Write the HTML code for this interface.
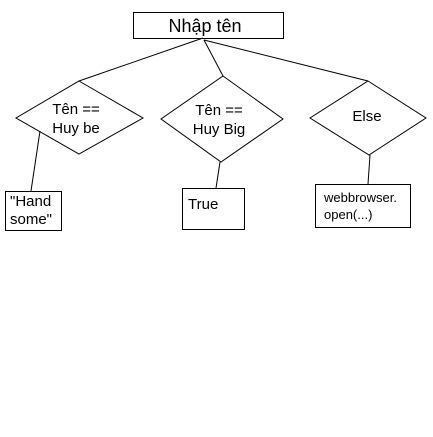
<!DOCTYPE html>
<html><head><meta charset="utf-8"><style>
html,body{margin:0;padding:0;background:#fff;}
svg{display:block}
text{font-family:"Liberation Sans",Arial,sans-serif;fill:#000}
</style></head><body>
<svg width="433" height="437" viewBox="0 0 433 437">
<g stroke="#000" stroke-width="1" fill="none" shape-rendering="crispEdges">
<rect x="133.5" y="12.5" width="150" height="26"/>
<rect x="5.5" y="191.5" width="56" height="39"/>
<rect x="182.5" y="188.5" width="62" height="41"/>
<rect x="315.5" y="184.5" width="95" height="43"/>
</g>
<g stroke="#000" stroke-width="1" fill="none">
<line x1="203" y1="38" x2="79" y2="81"/>
<line x1="204" y1="40" x2="223" y2="76"/>
<line x1="204" y1="40" x2="368" y2="81"/>
<polygon points="79,81 143,118 79,154 16,118"/>
<polygon points="223,76 283,119 221,162 161,119"/>
<polygon points="368,81 426,118 369,155 310,118"/>
<line x1="40" y1="131" x2="31" y2="191"/>
<line x1="220" y1="162" x2="216" y2="188"/>
<line x1="370" y1="155" x2="368" y2="184"/>
</g>
<text x="205" y="32" font-size="18" text-anchor="middle">Nhập tên</text>
<text x="76" y="114" font-size="15" text-anchor="middle">Tên ==</text>
<text x="76" y="133" font-size="15" text-anchor="middle">Huy be</text>
<text x="219" y="115" font-size="15" text-anchor="middle">Tên ==</text>
<text x="219" y="134" font-size="15" text-anchor="middle">Huy Big</text>
<text x="367" y="121" font-size="15" text-anchor="middle">Else</text>
<text x="10" y="206" font-size="15">"Hand</text>
<text x="10" y="224" font-size="15">some"</text>
<text x="188" y="209" font-size="15">True</text>
<text x="324" y="202" font-size="13">webbrowser.</text>
<text x="324" y="219" font-size="13">open(...)</text>
</svg>
</body></html>
